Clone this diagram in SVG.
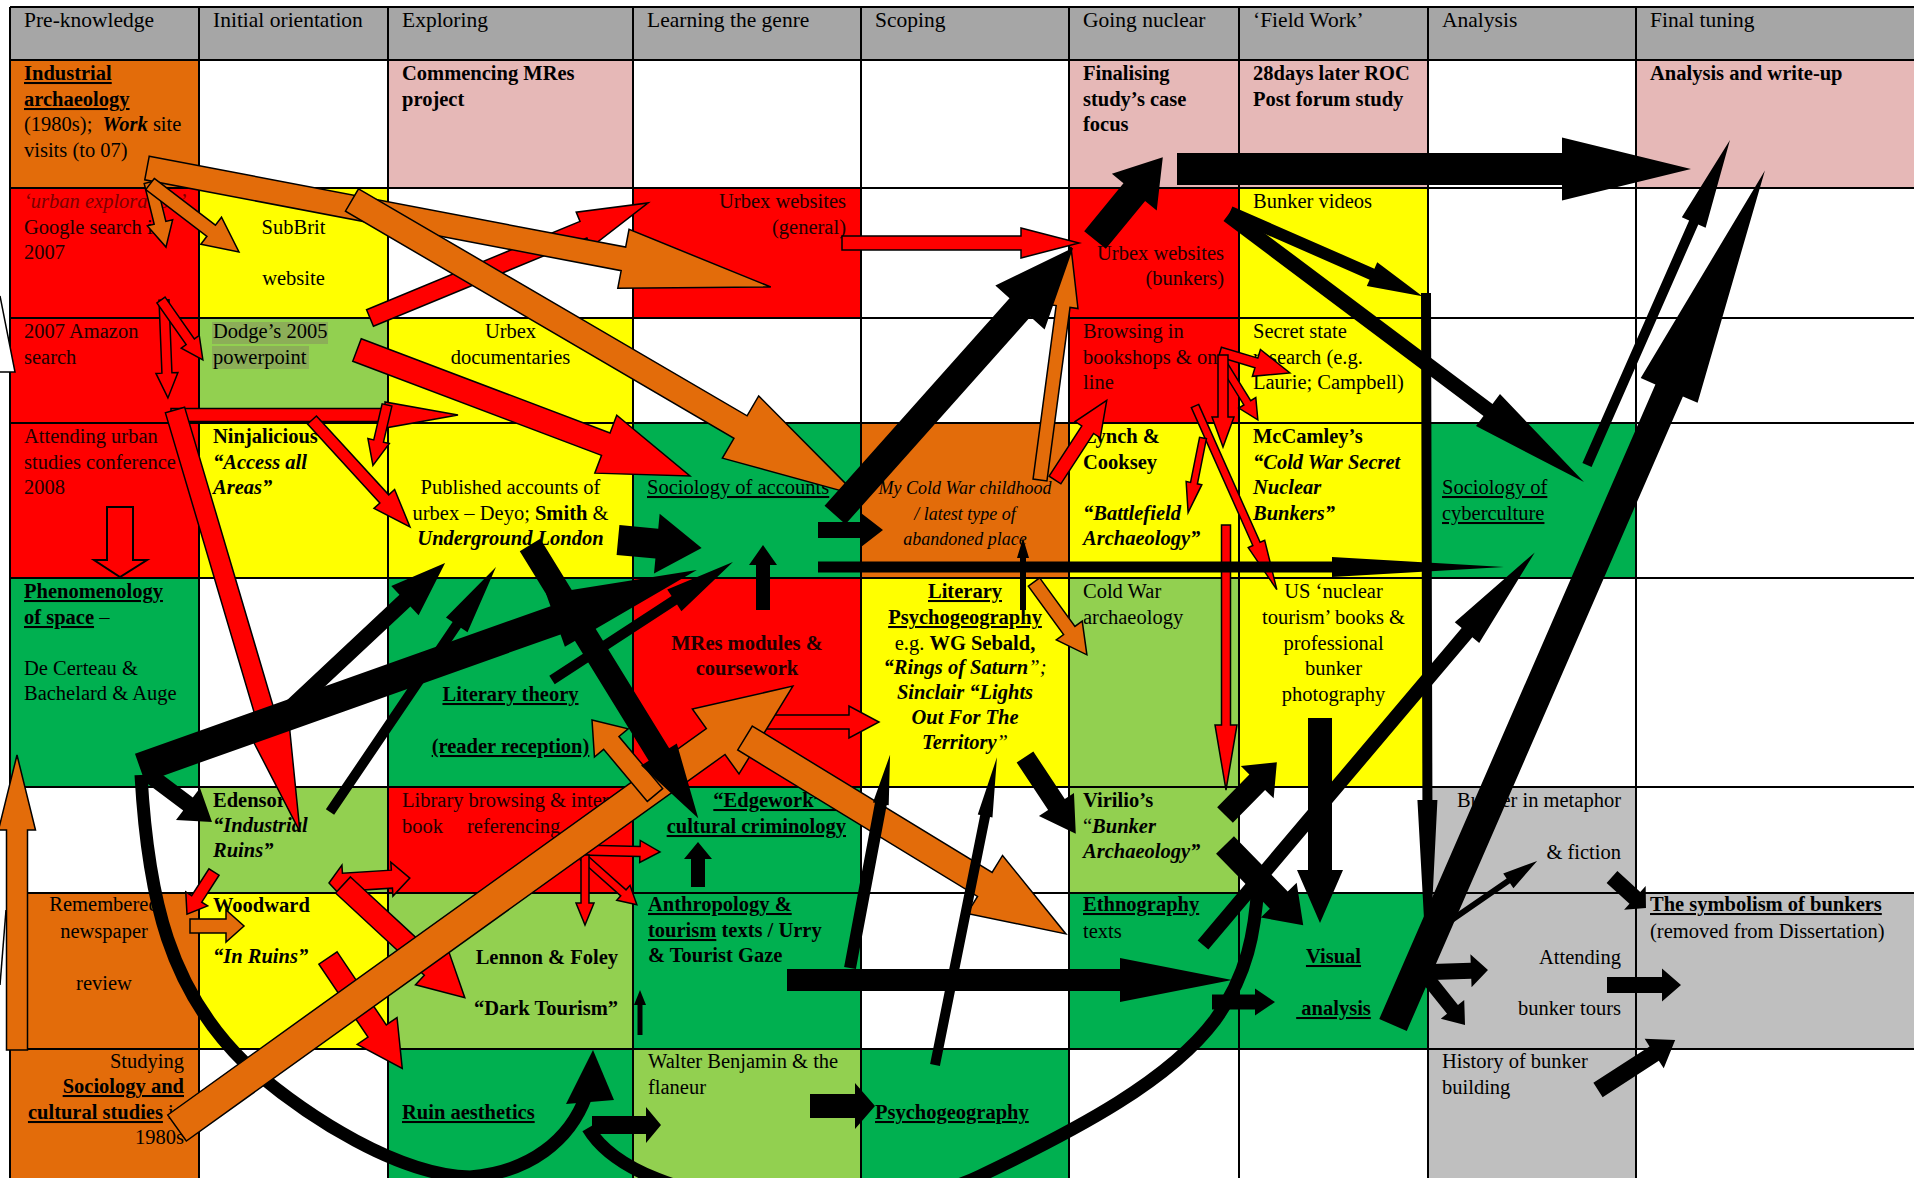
<svg xmlns="http://www.w3.org/2000/svg" width="1914" height="1178" viewBox="0 0 1914 1178">
<style>
text{font-family:"Liberation Serif","Times New Roman",serif;font-size:20.5px;fill:#000}
.h{font-size:21.5px}
.b{font-weight:bold}
.i{font-style:italic}
.u{text-decoration:underline}
.c{text-anchor:middle}
.e{text-anchor:end}
.dr{fill:#200000}
.or{fill:#e36c0a}.rd{fill:#ff0000}.ye{fill:#ffff00}.lg{fill:#92d050}.gr{fill:#00b050}.pk{fill:#e6b8b7}.gy{fill:#bfbfbf}.hd{fill:#a6a6a6}
.ao{fill:#e36c0a;stroke:#000;stroke-width:1.5;stroke-linejoin:miter}
.ar{fill:#ff0000;stroke:#000;stroke-width:1.5}
.ab{fill:#000}
.cv{fill:none;stroke:#000;stroke-width:13;stroke-linecap:butt}
.grid line{stroke:#000;stroke-width:2}
</style>
<rect width="1914" height="1178" fill="#fff"/>

<g id="header">
<rect class="hd" x="10" y="7" width="1904" height="53"/>
<text class="h" x="24" y="27">Pre-knowledge</text>
<text class="h" x="213" y="27">Initial orientation</text>
<text class="h" x="402" y="27">Exploring</text>
<text class="h" x="647" y="27">Learning the genre</text>
<text class="h" x="875" y="27">Scoping</text>
<text class="h" x="1083" y="27">Going nuclear</text>
<text class="h" x="1253" y="27">‘Field Work’</text>
<text class="h" x="1442" y="27">Analysis</text>
<text class="h" x="1650" y="27">Final tuning</text>
</g>

<g id="industrial-archaeology">
<rect class="or" x="10" y="60" width="189" height="128"/>
<text x="24" y="80" class="b u">Industrial</text>
<text x="24" y="106" class="b u">archaeology</text>
<text x="24" y="131">(1980s);&#160; <tspan class="b i">Work</tspan> site</text>
<text x="24" y="157">visits (to 07)</text>
</g>
<g id="commencing-mres">
<rect class="pk" x="388" y="60" width="245" height="128"/>
<text x="402" y="80" class="b">Commencing MRes</text>
<text x="402" y="106" class="b">project</text>
</g>
<g id="finalising">
<rect class="pk" x="1069" y="60" width="170" height="128"/>
<text x="1083" y="80" class="b">Finalising</text>
<text x="1083" y="106" class="b">study’s case</text>
<text x="1083" y="131" class="b">focus</text>
</g>
<g id="roc-forum">
<rect class="pk" x="1239" y="60" width="189" height="128"/>
<text x="1253" y="80" class="b">28days later ROC</text>
<text x="1253" y="106" class="b">Post forum study</text>
</g>
<g id="write-up">
<rect class="pk" x="1636" y="60" width="278" height="128"/>
<text x="1650" y="80" class="b">Analysis and write-up</text>
</g>

<g id="google-search">
<rect class="rd" x="10" y="188" width="189" height="130"/>
<text x="24" y="208" class="i" style="fill:#7a0000">‘urban exploration’</text>
<text x="24" y="234" class="dr">Google search in</text>
<text x="24" y="259" class="dr">2007</text>
</g>
<g id="subbrit">
<rect class="ye" x="199" y="188" width="189" height="130"/>
<text x="293.5" y="234" class="c">SubBrit</text>
<text x="293.5" y="285" class="c">website</text>
</g>
<g id="urbex-general">
<rect class="rd" x="633" y="188" width="228" height="130"/>
<text x="846" y="208" class="e dr">Urbex websites</text>
<text x="846" y="234" class="e dr">(general)</text>
</g>
<g id="urbex-bunkers">
<rect class="rd" x="1069" y="188" width="170" height="130"/>
<text x="1224" y="260" class="e dr">Urbex websites</text>
<text x="1224" y="285" class="e dr">(bunkers)</text>
</g>
<g id="bunker-videos">
<rect class="ye" x="1239" y="188" width="189" height="130"/>
<text x="1253" y="208">Bunker videos</text>
</g>

<g id="amazon">
<rect class="rd" x="10" y="318" width="189" height="105"/>
<text x="24" y="338" class="dr">2007 Amazon</text>
<text x="24" y="364" class="dr">search</text>
</g>
<g id="dodge">
<rect class="lg" x="199" y="318" width="189" height="105"/>
<rect x="212" y="322" width="116" height="22" fill="#8cae58"/>
<rect x="212" y="346" width="97" height="23" fill="#8cae58"/>
<text x="213" y="338">Dodge’s 2005</text>
<text x="213" y="364">powerpoint</text>
</g>
<g id="urbex-docs">
<rect class="ye" x="388" y="318" width="245" height="105"/>
<text x="510.5" y="338" class="c">Urbex</text>
<text x="510.5" y="364" class="c">documentaries</text>
</g>
<g id="browsing">
<rect class="rd" x="1069" y="318" width="170" height="105"/>
<text x="1083" y="338" class="dr">Browsing in</text>
<text x="1083" y="364" class="dr">bookshops &amp; on</text>
<text x="1083" y="389" class="dr">line</text>
</g>
<g id="secret-state">
<rect class="ye" x="1239" y="318" width="189" height="105"/>
<text x="1253" y="338">Secret state</text>
<text x="1253" y="364">research (e.g.</text>
<text x="1253" y="389">Laurie; Campbell)</text>
</g>

<g id="conference">
<rect class="rd" x="10" y="423" width="189" height="155"/>
<text x="24" y="443" class="dr">Attending urban</text>
<text x="24" y="469" class="dr">studies conference</text>
<text x="24" y="494" class="dr">2008</text>
<path d="M107,507H133V560H147L120,577L94,560H107Z" fill="none" stroke="#000" stroke-width="2"/>
</g>
<g id="ninjalicious">
<rect class="ye" x="199" y="423" width="189" height="155"/>
<text x="213" y="443" class="b">Ninjalicious</text>
<text x="213" y="469" class="b i">“Access all</text>
<text x="213" y="494" class="b i">Areas”</text>
</g>
<g id="published-accounts">
<rect class="ye" x="388" y="423" width="245" height="155"/>
<text x="510.5" y="494" class="c">Published accounts of</text>
<text x="510.5" y="520" class="c">urbex – Deyo; <tspan class="b">Smith</tspan> &amp;</text>
<text x="510.5" y="545" class="c b i">Underground London</text>
</g>
<g id="sociology-accounts">
<rect class="gr" x="633" y="423" width="228" height="155"/>
<text x="647" y="494" class="u">Sociology of accounts</text>
</g>
<g id="cold-war-childhood">
<rect class="or" x="861" y="423" width="208" height="155"/>
<text x="965" y="494" class="c i" style="font-size:18px">My Cold War childhood</text>
<text x="965" y="520" class="c i" style="font-size:18px">/ latest type of</text>
<text x="965" y="545" class="c i" style="font-size:18px">abandoned place</text>
</g>
<g id="lynch-cooksey">
<rect class="ye" x="1069" y="423" width="170" height="155"/>
<text x="1083" y="443" class="b">Lynch &amp;</text>
<text x="1083" y="469" class="b">Cooksey</text>
<text x="1083" y="520" class="b i">“Battlefield</text>
<text x="1083" y="545" class="b i">Archaeology”</text>
</g>
<g id="mccamley">
<rect class="ye" x="1239" y="423" width="189" height="155"/>
<text x="1253" y="443" class="b">McCamley’s</text>
<text x="1253" y="469" class="b i">“Cold War Secret</text>
<text x="1253" y="494" class="b i">Nuclear</text>
<text x="1253" y="520" class="b i">Bunkers”</text>
</g>
<g id="cyberculture">
<rect class="gr" x="1428" y="423" width="208" height="155"/>
<text x="1442" y="494" class="u">Sociology of</text>
<text x="1442" y="520" class="u">cyberculture</text>
</g>

<g id="phenomenology">
<rect class="gr" x="10" y="578" width="189" height="209"/>
<text x="24" y="598" class="b u">Phenomenology</text>
<text x="24" y="624"><tspan class="b u">of space</tspan> –</text>
<text x="24" y="675">De Certeau &amp;</text>
<text x="24" y="700">Bachelard &amp; Auge</text>
</g>
<g id="literary-theory">
<rect class="gr" x="388" y="578" width="245" height="209"/>
<text x="510.5" y="701" class="c b u">Literary theory</text>
<text x="510.5" y="753" class="c b u">(reader reception)</text>
</g>
<g id="mres-modules">
<rect class="rd" x="633" y="578" width="228" height="209"/>
<text x="747" y="650" class="c b dr">MRes modules &amp;</text>
<text x="747" y="675" class="c b dr">coursework</text>
</g>
<g id="literary-psychogeography">
<rect class="ye" x="861" y="578" width="208" height="209"/>
<text x="965" y="598" class="c b u">Literary</text>
<text x="965" y="624" class="c b u">Psychogeography</text>
<text x="965" y="650" class="c">e.g. <tspan class="b">WG Sebald,</tspan></text>
<text x="965" y="674" class="c"><tspan class="b i">“Rings of Saturn</tspan><tspan class="i">”;</tspan></text>
<text x="965" y="699" class="c b i">Sinclair “Lights</text>
<text x="965" y="724" class="c b i">Out For The</text>
<text x="965" y="749" class="c"><tspan class="b i">Territory</tspan><tspan class="i">”</tspan></text>
</g>
<g id="cold-war-archaeology">
<rect class="lg" x="1069" y="578" width="170" height="209"/>
<text x="1083" y="598">Cold War</text>
<text x="1083" y="624">archaeology</text>
</g>
<g id="nuclear-tourism">
<rect class="ye" x="1239" y="578" width="189" height="209"/>
<text x="1333.5" y="598" class="c">US ‘nuclear</text>
<text x="1333.5" y="624" class="c">tourism’ books &amp;</text>
<text x="1333.5" y="650" class="c">professional</text>
<text x="1333.5" y="675" class="c">bunker</text>
<text x="1333.5" y="701" class="c">photography</text>
</g>

<g id="edensor">
<rect class="lg" x="199" y="787" width="189" height="106"/>
<text x="213" y="807" class="b">Edensor</text>
<text x="213" y="832" class="b i">“Industrial</text>
<text x="213" y="857" class="b i">Ruins”</text>
</g>
<g id="library-browsing">
<rect class="rd" x="388" y="787" width="245" height="106"/>
<text x="402" y="807" class="dr">Library browsing &amp; inter</text>
<text x="402" y="833" class="dr">book</text>
<text x="467" y="833" class="dr">referencing</text>
</g>
<g id="edgework">
<rect class="gr" x="633" y="787" width="228" height="106"/>
<text x="846" y="807" class="e b u">“Edgework” &amp;</text>
<text x="846" y="833" class="e b u">cultural criminology</text>
</g>
<g id="virilio">
<rect class="lg" x="1069" y="787" width="170" height="106"/>
<text x="1083" y="807" class="b">Virilio’s</text>
<text x="1083" y="833">“<tspan class="b i">Bunker</tspan></text>
<text x="1083" y="858" class="b i">Archaeology”</text>
</g>
<g id="bunker-metaphor">
<rect class="gy" x="1428" y="787" width="208" height="106"/>
<text x="1621" y="807" class="e">Bunker in metaphor</text>
<text x="1621" y="859" class="e">&amp; fiction</text>
</g>

<g id="newspaper-review">
<rect class="or" x="10" y="893" width="189" height="156"/>
<text x="104" y="911" class="c">Remembered</text>
<text x="104" y="938" class="c">newspaper</text>
<text x="104" y="990" class="c">review</text>
</g>
<g id="woodward">
<rect class="ye" x="199" y="893" width="189" height="156"/>
<text x="213" y="912" class="b">Woodward</text>
<text x="213" y="963" class="b i">“In Ruins”</text>
</g>
<g id="lennon-foley">
<rect class="lg" x="388" y="893" width="245" height="156"/>
<text x="618" y="964" class="e b">Lennon &amp; Foley</text>
<text x="618" y="1015" class="e b">“Dark Tourism”</text>
</g>
<g id="anthropology">
<rect class="gr" x="633" y="893" width="228" height="156"/>
<text x="648" y="911" class="b u">Anthropology &amp;</text>
<text x="648" y="937" class="b"><tspan class="u">tourism</tspan> texts / Urry</text>
<text x="648" y="962" class="b">&amp; Tourist Gaze</text>
</g>
<g id="ethnography">
<rect class="gr" x="1069" y="893" width="170" height="156"/>
<text x="1083" y="911" class="b u">Ethnography</text>
<text x="1083" y="938">texts</text>
</g>
<g id="visual-analysis">
<rect class="gr" x="1239" y="893" width="189" height="156"/>
<text x="1333.5" y="963" class="c b u">Visual</text>
<text x="1333.5" y="1015" class="c b u">&#160;analysis</text>
</g>
<g id="bunker-tours">
<rect class="gy" x="1428" y="893" width="208" height="156"/>
<text x="1621" y="964" class="e">Attending</text>
<text x="1621" y="1015" class="e">bunker tours</text>
</g>
<g id="symbolism">
<rect class="gy" x="1636" y="893" width="278" height="156"/>
<text x="1650" y="911" class="b u">The symbolism of bunkers</text>
<text x="1650" y="938">(removed from Dissertation)</text>
</g>

<g id="sociology-cultural-studies">
<rect class="or" x="10" y="1049" width="189" height="129"/>
<text x="184" y="1068" class="e">Studying</text>
<text x="184" y="1093" class="e b u">Sociology and</text>
<text x="184" y="1119" class="e"><tspan class="b u">cultural studies</tspan> in</text>
<text x="184" y="1144" class="e">1980s</text>
</g>
<g id="ruin-aesthetics">
<rect class="gr" x="388" y="1049" width="245" height="129"/>
<text x="402" y="1119" class="b u">Ruin aesthetics</text>
</g>
<g id="benjamin">
<rect class="lg" x="633" y="1049" width="228" height="129"/>
<text x="648" y="1068">Walter Benjamin &amp; the</text>
<text x="648" y="1094">flaneur</text>
</g>
<g id="psychogeography">
<rect class="gr" x="861" y="1049" width="208" height="129"/>
<text x="875" y="1119" class="b u">Psychogeography</text>
</g>
<g id="bunker-history">
<rect class="gy" x="1428" y="1049" width="208" height="129"/>
<text x="1442" y="1068">History of bunker</text>
<text x="1442" y="1094">building</text>
</g>

<g class="grid" id="grid">
<line x1="10" y1="7" x2="1914" y2="7"/>
<line x1="10" y1="60" x2="1914" y2="60"/>
<line x1="10" y1="188" x2="1914" y2="188"/>
<line x1="10" y1="318" x2="1914" y2="318"/>
<line x1="10" y1="423" x2="1914" y2="423"/>
<line x1="10" y1="578" x2="1914" y2="578"/>
<line x1="10" y1="787" x2="1914" y2="787"/>
<line x1="10" y1="893" x2="1914" y2="893"/>
<line x1="10" y1="1049" x2="1914" y2="1049"/>
<line x1="10" y1="7" x2="10" y2="1178"/>
<line x1="199" y1="7" x2="199" y2="1178"/>
<line x1="388" y1="7" x2="388" y2="1178"/>
<line x1="633" y1="7" x2="633" y2="1178"/>
<line x1="861" y1="7" x2="861" y2="1178"/>
<line x1="1069" y1="7" x2="1069" y2="1178"/>
<line x1="1239" y1="7" x2="1239" y2="1178"/>
<line x1="1428" y1="7" x2="1428" y2="1178"/>
<line x1="1636" y1="7" x2="1636" y2="1178"/>
</g>

<g id="connectors">
<path d="M0,296L15,372L0,372" fill="#fff" stroke="#000" stroke-width="1.5"/>
<line x1="0" y1="985" x2="6" y2="910" stroke="#000" stroke-width="1.5"/>
<!-- red -->
<path class="ar" transform="translate(370,318) rotate(-22.47)" d="M0,-9H231V-19L301,0L231,19V9H0Z"/>
<path class="ar" transform="translate(842,243)" d="M0,-7H179V-15L237,0L179,15V7H0Z"/>
<path class="ar" transform="translate(357,350) rotate(20.73)" d="M0,-12H266V-31L356,0L266,31V12H0Z"/>
<path class="ar" transform="translate(164,300) rotate(87.7)" d="M0,-5H73V-11L98,0L73,11V5H0Z"/>
<path class="ar" transform="translate(161,300) rotate(55)" d="M0,-5H51V-11L73,0L51,11V5H0Z"/>
<path class="ar" transform="translate(171,415)" d="M0,-6.5H214V-13L287,0L214,13V6.5H0Z"/>
<path class="ar" transform="translate(387,405) rotate(103.1)" d="M0,-5H37V-11L62,0L37,11V5H0Z"/>
<path class="ar" transform="translate(312,420) rotate(47.5)" d="M0,-6H107V-14L145,0L107,14V6H0Z"/>
<path class="ar" transform="translate(214,872) rotate(122.7)" d="M0,-6H32V-13L50,0L32,13V6H0Z"/>
<path class="ar" transform="translate(329,883) rotate(-3.5)" d="M0,0L14,-17V-9H63V-17L81,0L63,17V9H14V17Z"/>
<path class="ar" transform="translate(343,885) rotate(42.8)" d="M0,-11H121V-24L166,0L121,24V11H0Z"/>
<path class="ar" transform="translate(328,958) rotate(56.07)" d="M0,-11H88V-24L133,0L88,24V11H0Z"/>
<path class="ar" transform="translate(580,850) rotate(1.4)" d="M0,-5H60V-11L80,0L60,11V5H0Z"/>
<path class="ar" transform="translate(583,857) rotate(41.6)" d="M0,-4H54V-10L72,0L54,10V4H0Z"/>
<path class="ar" transform="translate(585,855) rotate(90)" d="M0,-4H48V-9L70,0L48,9V4H0Z"/>
<path class="ar" transform="translate(750,722)" d="M0,-7H99V-16L129,0L99,16V7H0Z"/>
<path class="ar" transform="translate(1220,352) rotate(16.7)" d="M0,-5H38V-14L73,0L38,14V5H0Z"/>
<path class="ar" transform="translate(1222,362) rotate(58.2)" d="M0,-4H48V-10L68,0L48,10V4H0Z"/>
<path class="ar" transform="translate(1223,355) rotate(90)" d="M0,-5H62V-11L92,0L62,11V5H0Z"/>
<path class="ar" transform="translate(1195,406) rotate(65.98)" d="M0,-4H151V-9L201,0L151,9V4H0Z"/>
<path class="ar" transform="translate(1203,438) rotate(101.3)" d="M0,-3.5H46V-8L76,0L46,8V3.5H0Z"/>
<path class="ar" transform="translate(1055,480) rotate(-57)" d="M0,-7H60V-15L95,0L60,15V7H0Z"/>
<path class="ar" transform="translate(1226,525) rotate(90)" d="M0,-4.5H200V-11L265,0L200,11V4.5H0Z"/>
<path class="ar" transform="translate(175,410) rotate(73.5)" d="M0,-10H335V-20L440,0L335,20V10H0Z"/>
<!-- curves -->
<path class="cv" d="M141,775C148,900 170,990 245,1063C310,1120 400,1175 470,1177C530,1172 570,1140 586,1096"/>
<path class="ab" d="M566,1104L614,1100L593,1050Z"/>
<path class="cv" d="M588,1128C640,1215 880,1225 980,1176C1080,1128 1170,1080 1215,1020C1248,975 1255,930 1258,885"/>
<!-- orange -->
<path class="ao" transform="translate(147,168) rotate(10.8)" d="M0,-12H485V-30L635,0L485,30V12H0Z"/>
<path class="ao" transform="translate(352,200) rotate(30.3)" d="M0,-13H450V-36L585,0L450,36V13H0Z"/>
<path class="ao" transform="translate(150,182) rotate(76.2)" d="M0,-6H42V-13L67,0L42,13V6H0Z"/>
<path class="ao" transform="translate(150,184) rotate(37.4)" d="M0,-7H77V-17L112,0L77,17V7H0Z"/>
<path class="ao" transform="translate(177,1128) rotate(-35.66)" d="M0,-16H663V-40L758,0L663,40V16H0Z"/>
<path class="ao" transform="translate(745,738) rotate(31.41)" d="M0,-14H281V-34L376,0L281,34V14H0Z"/>
<path class="ao" transform="translate(655,795) rotate(-130)" d="M0,-10H68V-22L98,0L68,22V10H0Z"/>
<path class="ao" transform="translate(1034,582) rotate(54)" d="M0,-7H60V-16L90,0L60,16V7H0Z"/>
<path class="ao" transform="translate(1040,480) rotate(-82.42)" d="M0,-7H175V-15L235,0L175,15V7H0Z"/>
<path class="ao" transform="translate(190,926)" d="M0,-7H36V-16L54,0L36,16V7H0Z"/>
<path class="ao" transform="translate(17,1050) rotate(-90)" d="M0,-10.5H220V-18.5L295,0L220,18.5V10.5H0Z"/>
<!-- black -->
<path class="ab" transform="translate(1095,240) rotate(-50.67)" d="M0,-14H62V-29L107,0L62,29V14H0Z"/>
<path class="ab" transform="translate(1177,169)" d="M0,-16H385V-31.5L514,0L385,31.5V16H0Z"/>
<path class="ab" transform="translate(1230,212) rotate(23.63)" d="M0,-6H155V-13L210,0L155,13V6H0Z"/>
<path class="ab" transform="translate(1426,293) rotate(89.84)" d="M0,-5H507V-10L697,0L507,10V5H0Z"/>
<path class="ab" transform="translate(1228,215) rotate(36.87)" d="M0,-7.5H325V-20L445,0L325,20V7.5H0Z"/>
<path class="ab" transform="translate(1587,465) rotate(-66.25)" d="M0,-5H265V-13L355,0L265,13V5H0Z"/>
<path class="ab" transform="translate(1393,1025) rotate(-66.48)" d="M0,-15H692V-31L932,0L692,31V15H0Z"/>
<path class="ab" transform="translate(835,515) rotate(-48.29)" d="M0,-14H278V-33L358,0L278,33V14H0Z"/>
<path class="ab" transform="translate(618,540) rotate(5.4)" d="M0,-15H39V-30L84,0L39,30V15H0Z"/>
<path class="ab" transform="translate(818,530)" d="M0,-8H43V-17L65,0L43,17V8H0Z"/>
<path class="ab" transform="translate(818,567)" d="M0,-5.5H514V-10L686,0L514,10V5.5H0Z"/>
<path class="ab" transform="translate(763,610) rotate(-90)" d="M0,-7H45V-14L65,0L45,14V7H0Z"/>
<path class="ab" transform="translate(1023,610) rotate(-90)" d="M0,-3H52V-6L72,0L52,6V3H0Z"/>
<path class="ab" transform="translate(530,545) rotate(58.39)" d="M0,-12H246V-21L321,0L246,21V12H0Z"/>
<path class="ab" transform="translate(140,768) rotate(-19.57)" d="M0,-15H441V-28L591,0L441,28V15H0Z"/>
<path class="ab" transform="translate(552,680) rotate(-33.1)" d="M0,-5H146V-13L216,0L146,13V5H0Z"/>
<path class="ab" transform="translate(148,774) rotate(36.87)" d="M0,-8H50V-20L80,0L50,20V8H0Z"/>
<path class="ab" transform="translate(810,1106)" d="M0,-12H45V-23L65,0L45,23V12H0Z"/>
<path class="ab" transform="translate(592,1125)" d="M0,-9H54V-18L69,0L54,18V9H0Z"/>
<path class="ab" transform="translate(330,812) rotate(-55.89)" d="M0,-5H226V-13L296,0L226,13V5H0Z"/>
<path class="ab" transform="translate(286,712) rotate(-43.14)" d="M0,-8H163V-20L218,0L163,20V8H0Z"/>
<path class="ab" transform="translate(698,887) rotate(-90)" d="M0,-7H28V-14L45,0L28,14V7H0Z"/>
<path class="ab" transform="translate(640,1035) rotate(-90)" d="M0,-2.5H30V-6L45,0L30,6V2.5H0Z"/>
<path class="ab" transform="translate(787,980)" d="M0,-11H333V-22L445,0L333,22V11H0Z"/>
<path class="ab" transform="translate(850,968) rotate(-79.36)" d="M0,-6H167V-8L217,0L167,8V6H0Z"/>
<path class="ab" transform="translate(935,1065) rotate(-78.62)" d="M0,-5H254V-7.5L314,0L254,7.5V5H0Z"/>
<path class="ab" transform="translate(1025,757) rotate(56.5)" d="M0,-10H57V-21L92,0L57,21V10H0Z"/>
<path class="ab" transform="translate(1225,815) rotate(-45.5)" d="M0,-11H46V-23L74,0L46,23V11H0Z"/>
<path class="ab" transform="translate(1225,845) rotate(45.7)" d="M0,-12.5H77V-25L112,0L77,25V12.5H0Z"/>
<path class="ab" transform="translate(1320,718) rotate(90)" d="M0,-12H152V-23L205,0L152,23V12H0Z"/>
<path class="ab" transform="translate(1203,945) rotate(-49.8)" d="M0,-7H409V-16L514,0L409,16V7H0Z"/>
<path class="ab" transform="translate(1212,1002)" d="M0,-7.5H43V-13.5L63,0L43,13.5V7.5H0Z"/>
<path class="ab" transform="translate(1432,972) rotate(-2)" d="M0,-8H39V-16.5L56,0L39,16.5V8H0Z"/>
<path class="ab" transform="translate(1425,975) rotate(51.3)" d="M0,-7H44V-15L64,0L44,15V7H0Z"/>
<path class="ab" transform="translate(1440,928) rotate(-34.6)" d="M0,-3H83V-9L118,0L83,9V3H0Z"/>
<path class="ab" transform="translate(1612,877) rotate(42.4)" d="M0,-8H31V-16L46,0L31,16V8H0Z"/>
<path class="ab" transform="translate(1607,985)" d="M0,-8H55V-16.5L74,0L55,16.5V8H0Z"/>
<path class="ab" transform="translate(1598,1090) rotate(-33)" d="M0,-8.5H67V-17.5L92,0L67,17.5V8.5H0Z"/>
</g>
</svg>
